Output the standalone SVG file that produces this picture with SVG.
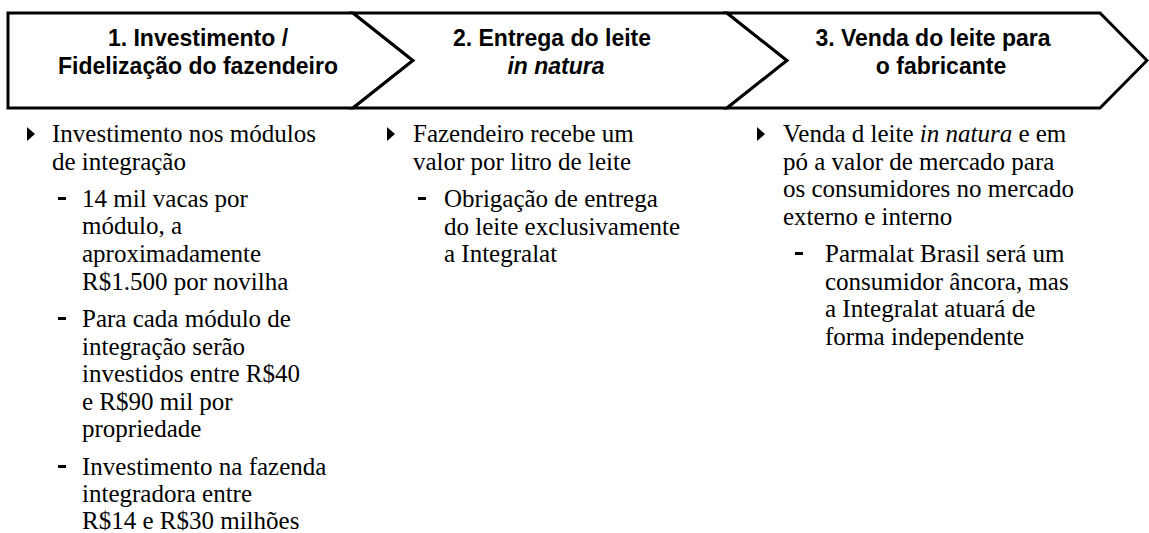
<svg xmlns="http://www.w3.org/2000/svg" width="1149" height="533" viewBox="0 0 1149 533">
<style>
.chev{fill:#fff;stroke:#000;stroke-width:3;stroke-linejoin:miter}
.hd{font-family:"Liberation Sans",Arial,sans-serif;font-weight:bold;font-size:23px;fill:#000;text-anchor:middle}
.bd{font-family:"Liberation Serif","Times New Roman",serif;font-size:25px;fill:#000}
.tri{fill:#000}
.dash{fill:#000}
</style>
<rect width="1149" height="533" fill="#fff"/>
<g id="step1">
<polygon class="chev" points="8,13 353,13 413,60.5 353,108 8,108"/>
<text class="hd" x="198" y="46">1. Investimento /</text>
<text class="hd" x="198" y="74">Fidelização do fazendeiro</text>
</g>
<g id="step2">
<polygon class="chev" points="353,13 727,13 787,60.5 727,108 353,108 413,60.5"/>
<text class="hd" x="552" y="46">2. Entrega do leite</text>
<text class="hd" x="556" y="74" font-style="italic">in natura</text>
</g>
<g id="step3">
<polygon class="chev" points="727,13 1100,13 1147,60.5 1100,108 727,108 787,60.5"/>
<text class="hd" x="933" y="46">3. Venda do leite para</text>
<text class="hd" x="941" y="74">o fabricante</text>
</g>
<g id="col1">
<polygon class="tri" points="27,127 35,134 27,141"/>
<text class="bd" x="52" y="142">Investimento nos módulos</text>
<text class="bd" x="52" y="170">de integração</text>
<rect class="dash" x="58" y="197" width="8" height="3"/>
<text class="bd" x="82" y="207">14 mil vacas por</text>
<text class="bd" x="82" y="234">módulo, a</text>
<text class="bd" x="82" y="262">aproximadamente</text>
<text class="bd" x="82" y="290">R$1.500 por novilha</text>
<rect class="dash" x="58" y="317" width="8" height="3"/>
<text class="bd" x="82" y="327">Para cada módulo de</text>
<text class="bd" x="82" y="355">integração serão</text>
<text class="bd" x="82" y="382">investidos entre R$40</text>
<text class="bd" x="82" y="410">e R$90 mil por</text>
<text class="bd" x="82" y="437">propriedade</text>
<rect class="dash" x="58" y="465" width="8" height="3"/>
<text class="bd" x="82" y="475">Investimento na fazenda</text>
<text class="bd" x="82" y="502">integradora entre</text>
<text class="bd" x="82" y="529">R$14 e R$30 milhões</text>
</g>
<g id="col2">
<polygon class="tri" points="387,127 395,134 387,141"/>
<text class="bd" x="413" y="142">Fazendeiro recebe um</text>
<text class="bd" x="413" y="170">valor por litro de leite</text>
<rect class="dash" x="418" y="197" width="8" height="3"/>
<text class="bd" x="444" y="207">Obrigação de entrega</text>
<text class="bd" x="444" y="235">do leite exclusivamente</text>
<text class="bd" x="444" y="262">a Integralat</text>
</g>
<g id="col3">
<polygon class="tri" points="757,127 765,134 757,141"/>
<text class="bd" x="783" y="142">Venda d leite <tspan font-style="italic">in natura</tspan> e em</text>
<text class="bd" x="783" y="170">pó a valor de mercado para</text>
<text class="bd" x="783" y="197">os consumidores no mercado</text>
<text class="bd" x="783" y="225">externo e interno</text>
<rect class="dash" x="795" y="252" width="8" height="3"/>
<text class="bd" x="825" y="262">Parmalat Brasil será um</text>
<text class="bd" x="825" y="290">consumidor âncora, mas</text>
<text class="bd" x="825" y="317">a Integralat atuará de</text>
<text class="bd" x="825" y="345">forma independente</text>
</g>
</svg>
